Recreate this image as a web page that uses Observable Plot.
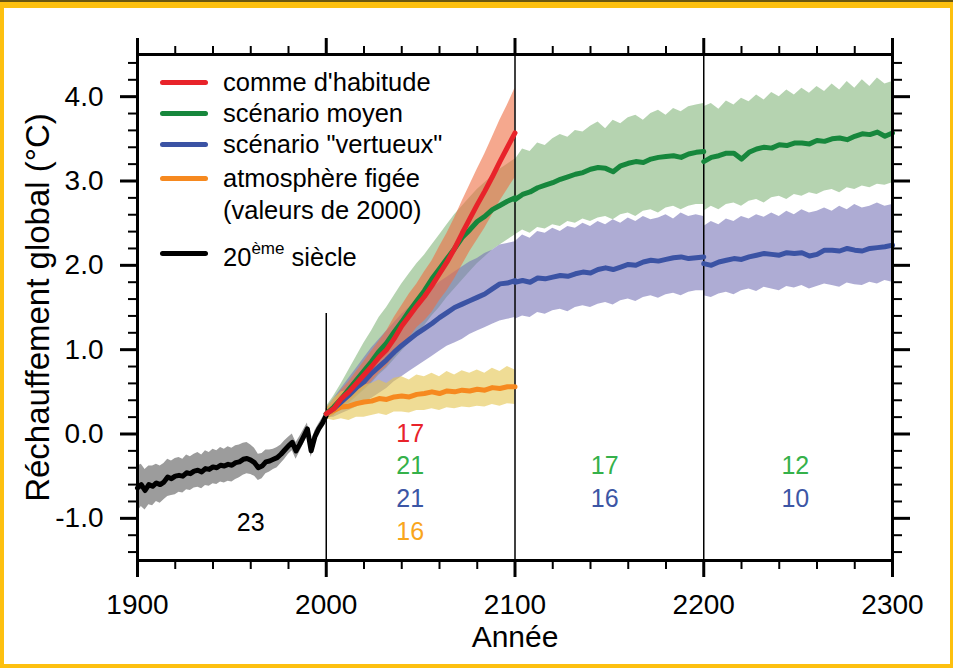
<!DOCTYPE html>
<html><head><meta charset="utf-8">
<script src="https://cdn.jsdelivr.net/npm/d3@7"></script>
<script src="https://cdn.jsdelivr.net/npm/@observablehq/plot@0.6"></script>
<style>
body{margin:0;background:#fff;}
#wrap{position:relative;width:953px;height:668px;overflow:hidden;background:#fff;font-family:"Liberation Sans",Arial,Helvetica,sans-serif;}
#wrap svg{position:absolute;left:0;top:0;}
#border{position:absolute;left:0;top:0;width:953px;height:668px;box-sizing:border-box;border-style:solid;border-color:#fdc00f;border-width:8px 3px 4px 4px;pointer-events:none;}
#topline{position:absolute;left:0;top:0;width:953px;height:2px;background:#6b5710;}
.leg{position:absolute;font-size:25.5px;line-height:30px;white-space:nowrap;color:#000;}
.sw{position:absolute;width:48px;height:5px;border-radius:3px;}
sup{font-size:17px;vertical-align:0;position:relative;top:-12px;}
</style></head><body><div id="wrap"></div>
<script>
// ---------- data ----------
const years20 = d3.range(1900, 2001, 2);
const hist   = [-0.64,-0.60,-0.67,-0.60,-0.62,-0.58,-0.60,-0.57,-0.51,-0.53,-0.50,-0.49,-0.50,-0.46,-0.47,-0.44,-0.43,-0.45,-0.41,-0.42,-0.39,-0.40,-0.37,-0.38,-0.36,-0.37,-0.34,-0.33,-0.30,-0.29,-0.31,-0.34,-0.40,-0.38,-0.33,-0.32,-0.30,-0.28,-0.24,-0.19,-0.14,-0.10,-0.20,-0.12,-0.03,0.06,-0.20,-0.03,0.06,0.13,0.22];
const histHi = [-0.38,-0.36,-0.42,-0.38,-0.38,-0.36,-0.38,-0.35,-0.30,-0.32,-0.29,-0.28,-0.30,-0.25,-0.27,-0.24,-0.22,-0.25,-0.20,-0.22,-0.18,-0.20,-0.16,-0.18,-0.15,-0.17,-0.14,-0.13,-0.11,-0.10,-0.13,-0.17,-0.24,-0.23,-0.19,-0.19,-0.18,-0.16,-0.13,-0.08,-0.04,0.00,-0.10,-0.03,0.05,0.13,-0.12,0.04,0.12,0.19,0.27];
const histLo = [-0.92,-0.86,-0.90,-0.84,-0.85,-0.80,-0.82,-0.78,-0.74,-0.73,-0.72,-0.69,-0.70,-0.66,-0.67,-0.64,-0.63,-0.65,-0.61,-0.62,-0.59,-0.60,-0.57,-0.58,-0.56,-0.57,-0.54,-0.52,-0.49,-0.47,-0.48,-0.50,-0.55,-0.53,-0.47,-0.45,-0.42,-0.40,-0.35,-0.30,-0.24,-0.20,-0.30,-0.21,-0.12,-0.03,-0.28,-0.10,0.00,0.07,0.17];

const years21 = d3.range(2000, 2101, 4);
const red21     = [0.24,0.30,0.42,0.50,0.60,0.70,0.80,0.91,1.00,1.13,1.28,1.40,1.52,1.63,1.76,1.90,2.04,2.20,2.38,2.55,2.72,2.88,3.05,3.23,3.40,3.57];
const redHi21   = [0.30,0.38,0.52,0.62,0.74,0.86,0.98,1.10,1.22,1.38,1.52,1.66,1.78,1.92,2.05,2.22,2.38,2.56,2.76,2.95,3.14,3.32,3.52,3.72,3.90,4.10];
const redLo21   = [0.18,0.22,0.32,0.38,0.46,0.54,0.62,0.72,0.80,0.92,1.04,1.14,1.26,1.34,1.44,1.58,1.70,1.84,2.00,2.16,2.30,2.44,2.60,2.76,2.90,3.04];
const green21   = [0.24,0.32,0.42,0.53,0.64,0.75,0.86,0.98,1.08,1.21,1.33,1.46,1.58,1.70,1.84,1.96,2.08,2.20,2.33,2.42,2.52,2.58,2.66,2.71,2.76,2.80];
const greenHi21 = [0.32,0.45,0.60,0.76,0.92,1.08,1.22,1.38,1.50,1.64,1.78,1.90,2.02,2.12,2.24,2.36,2.48,2.60,2.70,2.80,2.90,2.98,3.06,3.14,3.20,3.26];
const greenLo21 = [0.18,0.22,0.30,0.36,0.44,0.52,0.60,0.70,0.78,0.88,0.98,1.08,1.18,1.28,1.40,1.50,1.62,1.72,1.82,1.92,2.02,2.10,2.18,2.24,2.30,2.36];
const blue21    = [0.24,0.30,0.38,0.46,0.55,0.62,0.72,0.80,0.88,0.97,1.05,1.12,1.19,1.25,1.31,1.38,1.44,1.50,1.54,1.58,1.62,1.66,1.72,1.78,1.79,1.82];
const blueHi21  = [0.30,0.42,0.54,0.66,0.78,0.90,1.02,1.12,1.22,1.32,1.42,1.50,1.58,1.66,1.72,1.80,1.86,1.92,1.98,2.04,2.08,2.14,2.18,2.24,2.26,2.28];
const blueLo21  = [0.19,0.20,0.24,0.28,0.32,0.36,0.42,0.48,0.54,0.62,0.68,0.74,0.80,0.86,0.92,0.98,1.04,1.08,1.12,1.18,1.22,1.26,1.30,1.34,1.36,1.38];
const orange21   = [0.24,0.28,0.32,0.33,0.36,0.38,0.39,0.42,0.41,0.44,0.45,0.44,0.47,0.48,0.50,0.48,0.51,0.50,0.52,0.51,0.53,0.52,0.55,0.54,0.56,0.56];
const orangeHi21 = [0.30,0.42,0.50,0.52,0.56,0.58,0.60,0.64,0.60,0.66,0.68,0.64,0.70,0.68,0.72,0.68,0.74,0.70,0.75,0.72,0.76,0.72,0.78,0.74,0.80,0.76];
const orangeLo21 = [0.18,0.16,0.18,0.16,0.20,0.20,0.22,0.24,0.22,0.26,0.26,0.25,0.28,0.28,0.30,0.28,0.31,0.30,0.32,0.31,0.33,0.32,0.35,0.33,0.36,0.35];

const years22 = d3.range(2100, 2201, 4);
const green22   = [2.78,2.84,2.87,2.92,2.95,2.98,3.02,3.05,3.08,3.10,3.14,3.16,3.15,3.11,3.18,3.21,3.23,3.22,3.26,3.28,3.29,3.30,3.28,3.32,3.34,3.35];
const greenHi22 = [3.25,3.38,3.35,3.45,3.42,3.50,3.55,3.52,3.60,3.58,3.65,3.70,3.62,3.72,3.68,3.75,3.78,3.72,3.80,3.84,3.78,3.86,3.82,3.88,3.90,3.92];
const greenLo22 = [2.36,2.42,2.38,2.45,2.43,2.48,2.46,2.52,2.50,2.55,2.52,2.56,2.58,2.54,2.60,2.62,2.58,2.64,2.66,2.62,2.68,2.70,2.66,2.70,2.72,2.72];
const blue22    = [1.80,1.82,1.80,1.85,1.84,1.86,1.88,1.87,1.90,1.92,1.91,1.95,1.97,1.95,1.98,2.01,2.00,2.04,2.06,2.05,2.07,2.09,2.10,2.08,2.09,2.10];
const blueHi22  = [2.28,2.36,2.32,2.40,2.38,2.44,2.40,2.46,2.44,2.50,2.46,2.52,2.48,2.54,2.50,2.56,2.52,2.58,2.54,2.56,2.60,2.55,2.62,2.58,2.60,2.58];
const blueLo22  = [1.36,1.40,1.38,1.44,1.42,1.46,1.48,1.45,1.50,1.52,1.50,1.54,1.56,1.53,1.58,1.60,1.57,1.62,1.64,1.61,1.65,1.67,1.64,1.68,1.70,1.70];

const years23 = d3.range(2200, 2301, 4);
const green23   = [3.23,3.28,3.30,3.33,3.33,3.26,3.34,3.38,3.40,3.39,3.43,3.42,3.45,3.45,3.44,3.48,3.47,3.50,3.51,3.49,3.53,3.56,3.55,3.58,3.53,3.57];
const greenHi23 = [3.88,3.92,3.85,3.95,3.90,3.98,3.94,4.02,3.96,4.05,4.00,4.08,4.02,4.10,4.04,4.12,4.06,4.15,4.08,4.18,4.10,4.20,4.12,4.22,4.15,4.18];
const greenLo23 = [2.64,2.70,2.66,2.72,2.74,2.70,2.76,2.78,2.74,2.80,2.82,2.78,2.84,2.82,2.86,2.84,2.88,2.90,2.86,2.92,2.90,2.94,2.92,2.96,2.95,2.98];
const blue23    = [2.02,2.00,2.04,2.06,2.08,2.07,2.10,2.12,2.14,2.13,2.12,2.15,2.14,2.15,2.11,2.13,2.18,2.18,2.17,2.20,2.18,2.17,2.20,2.21,2.22,2.24];
const blueHi23  = [2.46,2.52,2.48,2.55,2.52,2.58,2.55,2.60,2.57,2.62,2.58,2.64,2.60,2.66,2.62,2.64,2.68,2.64,2.70,2.66,2.72,2.68,2.70,2.74,2.70,2.72];
const blueLo23  = [1.64,1.62,1.66,1.68,1.65,1.70,1.72,1.69,1.74,1.72,1.70,1.75,1.73,1.76,1.72,1.75,1.78,1.76,1.74,1.79,1.77,1.76,1.80,1.78,1.82,1.80];

// number of models per period / scenario
const countScenario = ["hist","red","green","blue","orange","green","blue","green","blue"];
const countPeriod   = [1900, 2000, 2000, 2000, 2000, 2100, 2100, 2200, 2200];
const countValue    = [23, 17, 21, 21, 16, 17, 16, 12, 10];

const dividerYears = [2000, 2100, 2200];
const xMajor = [1900, 2000, 2100, 2200, 2300];
const yMajor = [-1, 0, 1, 2, 3, 4];

const legendLabels = ["comme d'habitude", "scénario moyen", "scénario \"vertueux\"", "atmosphère figée", "(valeurs de 2000)"];

// ---------- styles ----------
const lineColor = {hist:"#000000", red:"#e8232a", green:"#16873c", blue:"#3b53a4", orange:"#f6891f"};
const bandColor = {hist:"#9c9c9c", red:"#ee6e43", green:"#84b67b", blue:"#7875b7", orange:"#e4c54e"};
const bandOpacity = {hist:1, red:0.6, green:0.6, blue:0.6, orange:0.6};
const numColor = {hist:"#000000", red:"#e8232a", green:"#35b14a", blue:"#3c56a5", orange:"#f9a61c"};

const series = [
  {scen:"hist",   x:years20, v:hist,     lo:histLo,     hi:histHi},
  {scen:"green",  x:years21, v:green21,  lo:greenLo21,  hi:greenHi21},
  {scen:"blue",   x:years21, v:blue21,   lo:blueLo21,   hi:blueHi21},
  {scen:"red",    x:years21, v:red21,    lo:redLo21,    hi:redHi21},
  {scen:"orange", x:years21, v:orange21, lo:orangeLo21, hi:orangeHi21},
  {scen:"green",  x:years22, v:green22,  lo:greenLo22,  hi:greenHi22},
  {scen:"blue",   x:years22, v:blue22,   lo:blueLo22,   hi:blueHi22},
  {scen:"green",  x:years23, v:green23,  lo:greenLo23,  hi:greenHi23},
  {scen:"blue",   x:years23, v:blue23,   lo:blueLo23,   hi:blueHi23}
];
const rowsOf = s => s.x.map((x, i) => ({x, v:s.v[i], lo:s.lo[i], hi:s.hi[i]}));
const lineOrder = ["hist","orange","blue","green","red"];

const xMinor = d3.range(1900, 2301, 20).filter(d => d % 100 !== 0);
const yMinor = d3.range(-14, 45, 2).map(d => d / 10).filter(d => Math.abs(d - Math.round(d)) > 1e-6);

const periodX = {1900:1960, 2000:2044.5, 2100:2147.5, 2200:2248.5};
const rowY = {red:0.0, green:-0.38, blue:-0.77, orange:-1.16, hist:-1.05};
const counts = countValue.map((v, i) => ({
  x: periodX[countPeriod[i]], y: rowY[countScenario[i]], text: String(v), scen: countScenario[i]
}));

const marks = [];
for (const s of series) {
  marks.push(Plot.areaY(rowsOf(s), {x:"x", y1:"lo", y2:"hi", fill:bandColor[s.scen], fillOpacity:bandOpacity[s.scen]}));
}
marks.push(Plot.ruleX([dividerYears[0]], {y1:1.43, y2:-1.5, stroke:"#000", strokeWidth:1.5}));
marks.push(Plot.ruleX(dividerYears.slice(1), {y1:-1.5, y2:4.5, stroke:"#000", strokeWidth:1.5}));
for (const sc of lineOrder) {
  for (const s of series.filter(d => d.scen === sc)) {
    marks.push(Plot.line(rowsOf(s), {x:"x", y:"v", stroke:lineColor[sc], strokeWidth:5, strokeLinejoin:"round"}));
  }
}
for (const sc of Object.keys(numColor)) {
  marks.push(Plot.text(counts.filter(d => d.scen === sc), {x:"x", y:"y", text:"text", fill:numColor[sc], fontSize:25}));
}
// axes
const fmtY = d => d.toFixed(1);
marks.push(
  Plot.frame({stroke:"#000", strokeWidth:3}),
  Plot.axisX(xMajor, {anchor:"bottom", tickSize:17, tickPadding:17, tickFormat:d => String(d), fontSize:28, strokeWidth:3, label:null}),
  Plot.axisX(xMinor, {anchor:"bottom", tickSize:9, tickFormat:() => "", strokeWidth:2, label:null}),
  Plot.axisX(xMajor, {anchor:"top", tickSize:17, tickFormat:() => "", strokeWidth:3, label:null}),
  Plot.axisX(xMinor, {anchor:"top", tickSize:9, tickFormat:() => "", strokeWidth:2, label:null}),
  Plot.axisY(yMajor, {anchor:"left", tickSize:17, tickPadding:17, tickFormat:fmtY, fontSize:28, strokeWidth:3, label:null}),
  Plot.axisY(yMinor, {anchor:"left", tickSize:9, tickFormat:() => "", strokeWidth:2, label:null}),
  Plot.axisY(yMajor, {anchor:"right", tickSize:17, tickFormat:() => "", strokeWidth:3, label:null}),
  Plot.axisY(yMinor, {anchor:"right", tickSize:9, tickFormat:() => "", strokeWidth:2, label:null}),
  Plot.text(["Année"], {frameAnchor:"bottom", dy:77, lineAnchor:"middle", textAnchor:"middle", text:d => d, fontSize:30, fill:"#000"}),
  Plot.text(["Réchauffement global (°C)"], {frameAnchor:"left", dx:-99, rotate:-90, lineAnchor:"middle", textAnchor:"middle", text:d => d, fontSize:33, fill:"#000"})
);

const chart = Plot.plot({
  width: 953, height: 668,
  marginLeft: 137, marginRight: 61, marginTop: 54, marginBottom: 108,
  style: {fontFamily:"'Liberation Sans', Arial, Helvetica, sans-serif", background:"transparent", color:"#000", overflow:"visible"},
  x: {domain:[1900, 2300]},
  y: {domain:[-1.5, 4.5]},
  marks
});

const wrap = document.getElementById("wrap");
wrap.appendChild(chart);

// legend (HTML overlay)
const legendRows = [
  {text:legendLabels[0], color:lineColor.red, y:82},
  {text:legendLabels[1], color:lineColor.green, y:113},
  {text:legendLabels[2], color:lineColor.blue, y:144},
  {text:legendLabels[3], color:lineColor.orange, y:178},
  {text:legendLabels[4], color:null, y:210}
];
for (const r of legendRows) {
  if (r.color) {
    const sw = document.createElement("div");
    sw.className = "sw"; sw.style.left = "160px"; sw.style.top = (r.y - 2.5) + "px"; sw.style.background = r.color;
    wrap.appendChild(sw);
  }
  const t = document.createElement("div");
  t.className = "leg"; t.style.left = "223px"; t.style.top = (r.y - 15) + "px"; t.textContent = r.text;
  wrap.appendChild(t);
}
const swb = document.createElement("div");
swb.className = "sw"; swb.style.left = "160px"; swb.style.top = (253 - 2.5) + "px"; swb.style.background = lineColor.hist;
wrap.appendChild(swb);
const tb = document.createElement("div");
tb.className = "leg"; tb.style.left = "223px"; tb.style.top = (253 - 11) + "px";
tb.innerHTML = "20<sup>ème</sup> siècle";
wrap.appendChild(tb);

const border = document.createElement("div"); border.id = "border"; wrap.appendChild(border);
const tl = document.createElement("div"); tl.id = "topline"; wrap.appendChild(tl);
</script></body></html>
